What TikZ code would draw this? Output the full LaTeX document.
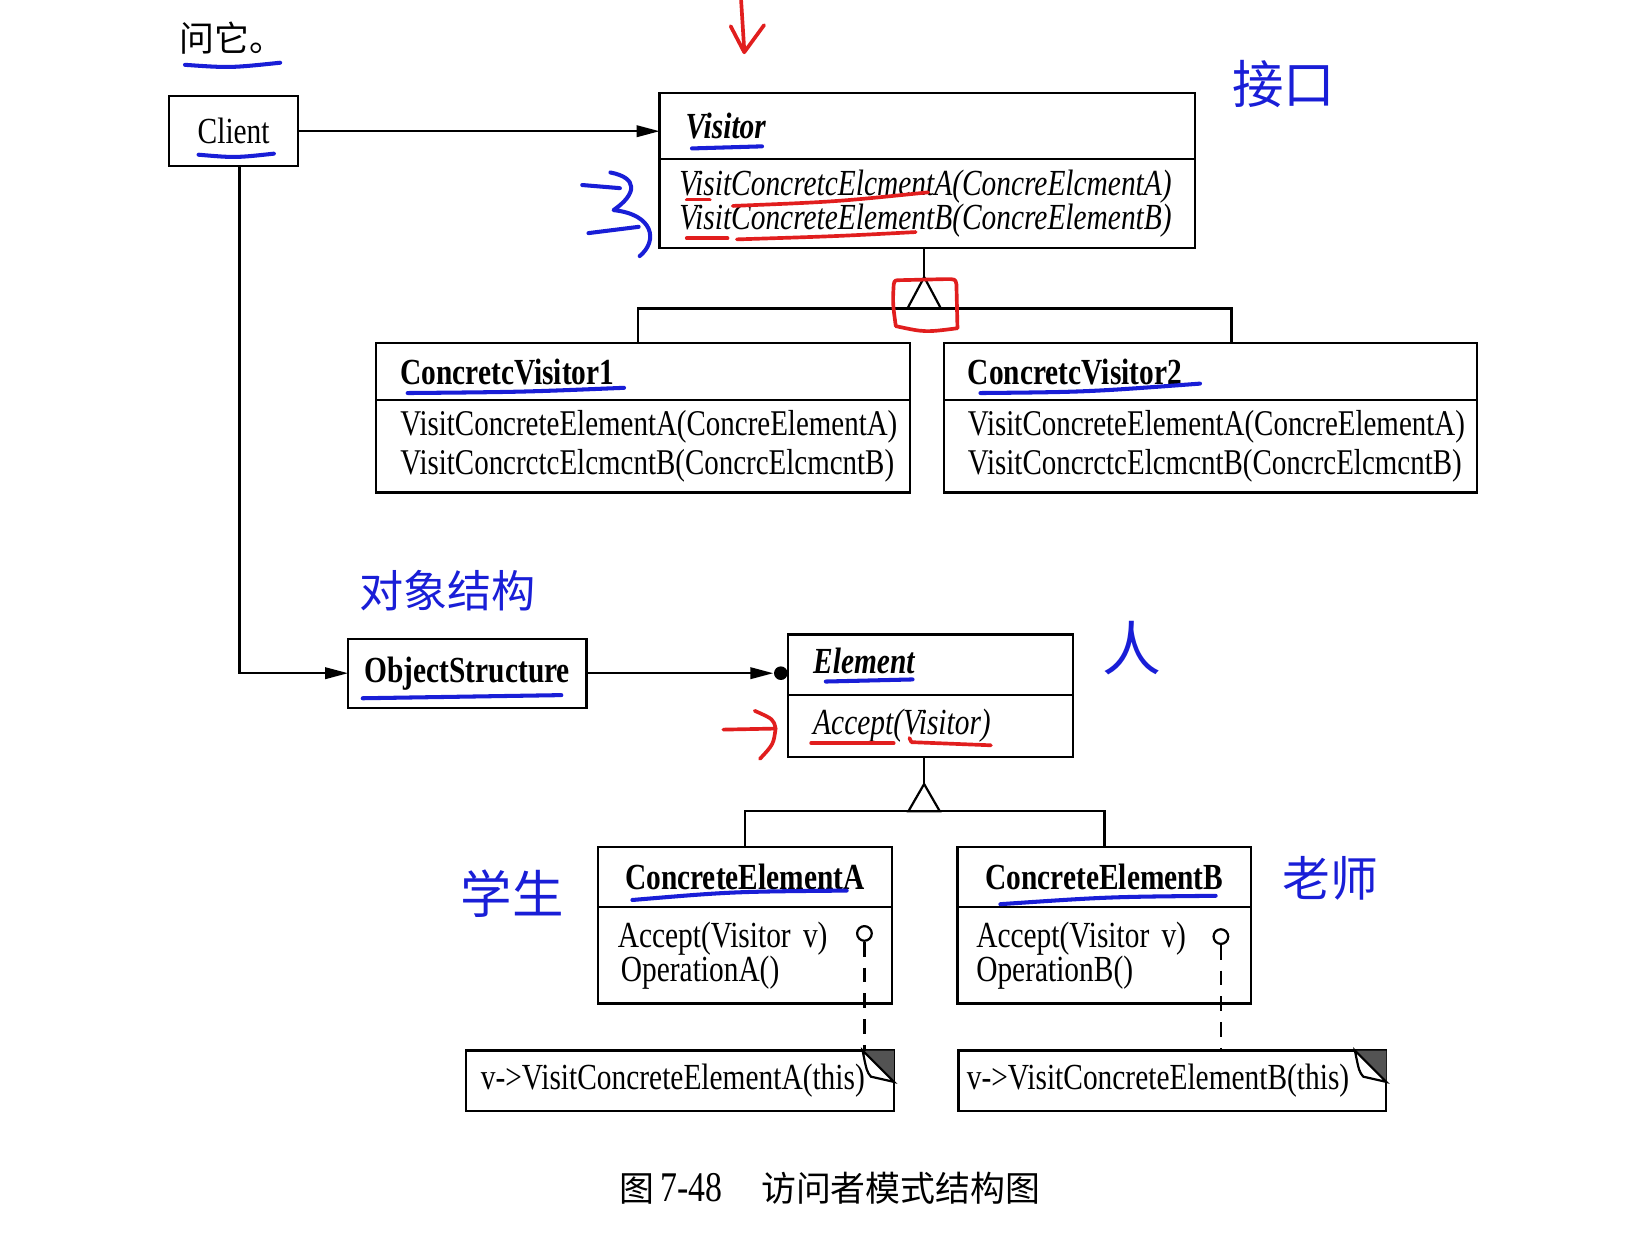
\documentclass[tikz,border=0pt]{standalone}
\usepackage{fontspec}
\setmainfont{Liberation Serif}[FakeStretch=0.8]
\newfontfamily\cjk{Noto Sans CJK SC}
\usetikzlibrary{arrows.meta}
\definecolor{ink}{RGB}{25,30,215}
\definecolor{redink}{RGB}{225,30,30}
\tikzset{
  cls/.style={draw, line width=0.6pt, anchor=north west, align=left, inner ysep=0pt, outer sep=0pt, font=\fontsize{10}{11}\selectfont},
  arr/.style={-{Triangle[length=2.2mm,width=1.1mm]}, line width=0.6pt},
  pen/.style={ink, line width=1.1pt, line cap=round, line join=round},
  redpen/.style={redink, line width=1pt, line cap=round, line join=round},
  hand/.style={text=ink, font=\cjk\fontsize{14}{14}\selectfont},
  ball/.style={circle, draw, line width=0.6pt, minimum size=0.14cm, inner sep=0pt}
}
\begin{document}
\begin{tikzpicture}[x=0.01cm, y=-0.01cm]
\useasboundingbox (0,0) rectangle (1568,1190);
\fill[white] (0,0) rectangle (1568,1190);

% classes
\node[cls, align=center, text width=1.03cm, inner xsep=0.1cm, minimum height=0.67cm] (client) at (162,92) {Client};
\node[cls, text width=4.62cm, inner xsep=0.25cm, minimum height=0.63cm] (vhead) at (631,89) {\bfseries\itshape Visitor};
\node[cls, text width=4.74cm, inner xsep=0.19cm, minimum height=0.85cm, font=\fontsize{10}{9.2}\selectfont\itshape] (vbody) at (vhead.south west)
  {VisitConcretcElcmentA(ConcreElcmentA)\\VisitConcreteElementB(ConcreElementB)};

\node[cls, text width=4.64cm, inner xsep=0.23cm, minimum height=0.55cm] (cv1head) at (360,328) {\bfseries ConcretcVisitor1};
\node[cls, text width=4.64cm, inner xsep=0.23cm, minimum height=0.88cm, font=\fontsize{9.85}{10.6}\selectfont] (cv1body) at (cv1head.south west)
  {VisitConcreteElementA(ConcreElementA)\\VisitConcrctcElcmcntB(ConcrcElcmcntB)};
\node[cls, text width=4.64cm, inner xsep=0.23cm, minimum height=0.55cm] (cv2head) at (903,328) {\bfseries ConcretcVisitor2};
\node[cls, text width=4.64cm, inner xsep=0.23cm, minimum height=0.88cm, font=\fontsize{9.85}{10.6}\selectfont] (cv2body) at (cv2head.south west)
  {VisitConcreteElementA(ConcreElementA)\\VisitConcrctcElcmcntB(ConcrcElcmcntB)};

\node[cls, align=center, text width=2.08cm, inner xsep=0.1cm, minimum height=0.66cm] (os) at (333,611) {\bfseries ObjectStructure};
\node[cls, text width=2.24cm, inner xsep=0.24cm, minimum height=0.58cm] (ehead) at (754,607) {\bfseries\itshape Element\vphantom{p}};
\node[cls, text width=2.24cm, inner xsep=0.24cm, minimum height=0.59cm] (ebody) at (ehead.south west) {\itshape Accept(Visitor)};

\node[cls, align=center, text width=2.61cm, inner xsep=0.1cm, minimum height=0.58cm] (cahead) at (572,810) {\bfseries ConcreteElementA};
\node[cls, text width=2.43cm, inner xsep=0.19cm, minimum height=0.92cm, font=\fontsize{10}{9.4}\selectfont] (cabody) at (cahead.south west)
  {\mbox{Accept(Visitor v)}\\\hspace{0.03cm}OperationA()};
\node[cls, align=center, text width=2.61cm, inner xsep=0.1cm, minimum height=0.58cm] (cbhead) at (916,810) {\bfseries ConcreteElementB};
\node[cls, text width=2.45cm, inner xsep=0.18cm, minimum height=0.92cm, font=\fontsize{10}{9.4}\selectfont] (cbbody) at (cbhead.south west)
  {\mbox{Accept(Visitor v)}\\OperationB()};

% notes
\node[cls, text width=3.81cm, inner xsep=0.14cm, minimum height=0.58cm] (nA) at (446,1005) {v->VisitConcreteElementA(this)};
\node[cls, text width=3.93cm, inner xsep=0.08cm, minimum height=0.58cm] (nB) at (917,1005) {v->VisitConcreteElementB(this)};
\foreach \n in {nA,nB} {
  \fill[gray!65!black] ([xshift=-0.3cm]\n.north east) -- (\n.north east) -- ([yshift=-0.3cm]\n.north east) -- cycle;
  \draw[line width=0.6pt, fill=white] ([xshift=-0.3cm]\n.north east) .. controls ([xshift=-0.26cm,yshift=-0.2cm]\n.north east) .. ([xshift=-0.22cm,yshift=-0.25cm]\n.north east) -- ([yshift=-0.3cm]\n.north east) -- cycle;
}
\node[ball] (bA) at (827,893) {};
\node[ball] (bB) at (1168,896) {};
\draw[line width=0.6pt, dash pattern=on 4pt off 3pt] (bA.south) -- (bA.south |- nA.north);
\draw[line width=0.6pt, dash pattern=on 4pt off 3pt] (bB.south) -- (bB.south |- nB.north);

% associations
\draw[arr] (client.east) -- (client.east -| vhead.west);
\draw[arr] ([xshift=0.055cm]client.south) |- (os.west);
\node[circle, fill, minimum size=0.13cm, inner sep=0pt] (edot) at ([xshift=-0.07cm]os.east -| ehead.west) {};
\draw[arr] (os.east) -- (edot.west);

% inheritance
\draw[line width=0.6pt] ([xshift=-0.03cm]vbody.south) -- ++(0,28) coordinate (t1);
\draw[line width=0.6pt] (t1) -- ++(-16,30) coordinate (t1b) -- ++(32,0) -- cycle;
\draw[line width=0.6pt] ([xshift=-0.05cm]cv1head.north) |- (t1b) -- ++(32,0) -| ([xshift=0.2cm]cv2head.north);
\draw[line width=0.6pt] ([xshift=-0.06cm]ebody.south) -- ++(0,26) coordinate (t2);
\draw[line width=0.6pt] (t2) -- ++(-15,26) coordinate (t2b) -- ++(30,0) -- cycle;
\draw[line width=0.6pt] (cahead.north) |- (t2b) -- ++(30,0) -| (cbhead.north);

% printed text
\node (wen) at (222,36) {\cjk\fontsize{9.5}{10}\selectfont 问它。};
\node (cap) at (794,1137) {{\cjk\fontsize{9.5}{10}\selectfont 图}\,{\fontsize{11.5}{12}\selectfont 7-48}\hspace{1.05em}{\cjk\fontsize{9.5}{10}\selectfont 访问者模式结构图}};

% handwriting
\node[hand] (hjk) at (1228,80) {接口};
\node[hand, font=\cjk\fontsize{12}{12}\selectfont] (hdx) at (428,565) {对象结构};
\node[hand, font=\cjk\fontsize{16}{16}\selectfont] (hren) at (1083,620) {人};
\node[hand] (hxs) at (490,855) {学生};
\node[hand, font=\cjk\fontsize{13}{13}\selectfont] (hls) at (1273,840) {老师};

\draw[pen] (177,62) .. controls (220,65) .. (268,60);
\draw[pen] (190,148) .. controls (225,151) .. (262,147);
\draw[pen] (662,142) -- (729,140);
\draw[pen] (390,376) .. controls (500,375) .. (597,371);
\draw[pen] (938,376) .. controls (1040,375) .. (1148,367);
\draw[pen] (347,668) -- (537,665);
\draw[pen] (790,652) -- (873,650);
\draw[pen] (605,861) .. controls (700,853) .. (810,852);
\draw[pen] (957,865) .. controls (1060,858) .. (1163,857);
\draw[pen] (557,177) -- (593,180);
\draw[pen] (584,165) .. controls (610,170) and (610,185) .. (587,201) .. controls (625,205) and (630,230) .. (612,245);
\draw[pen] (563,223) -- (611,217);

\draw[redpen] (657,191) -- (679,191);
\draw[redpen] (701,197) .. controls (800,193) .. (888,184);
\draw[redpen] (657,228) -- (696,228);
\draw[redpen] (705,229) .. controls (800,226) .. (876,222);
\draw[redpen] (776,711) -- (855,711);
\draw[redpen] (870,706) -- (872,710) .. controls (910,711) .. (948,713);
\draw[redpen] (709,0) -- (712,48);
\draw[redpen] (699,25) -- (712,50) -- (731,24);
\draw[redpen] (855,272) .. controls (854,290) .. (857,312) .. controls (885,318) .. (916,314) -- (915,272) .. controls (914,267) .. (905,267) -- (862,268) .. controls (856,268) .. (855,272);
\draw[redpen] (692,698) -- (742,697);
\draw[redpen] (722,680) .. controls (740,688) .. (742,697) .. controls (740,712) .. (727,726);
\end{tikzpicture}
\end{document}
